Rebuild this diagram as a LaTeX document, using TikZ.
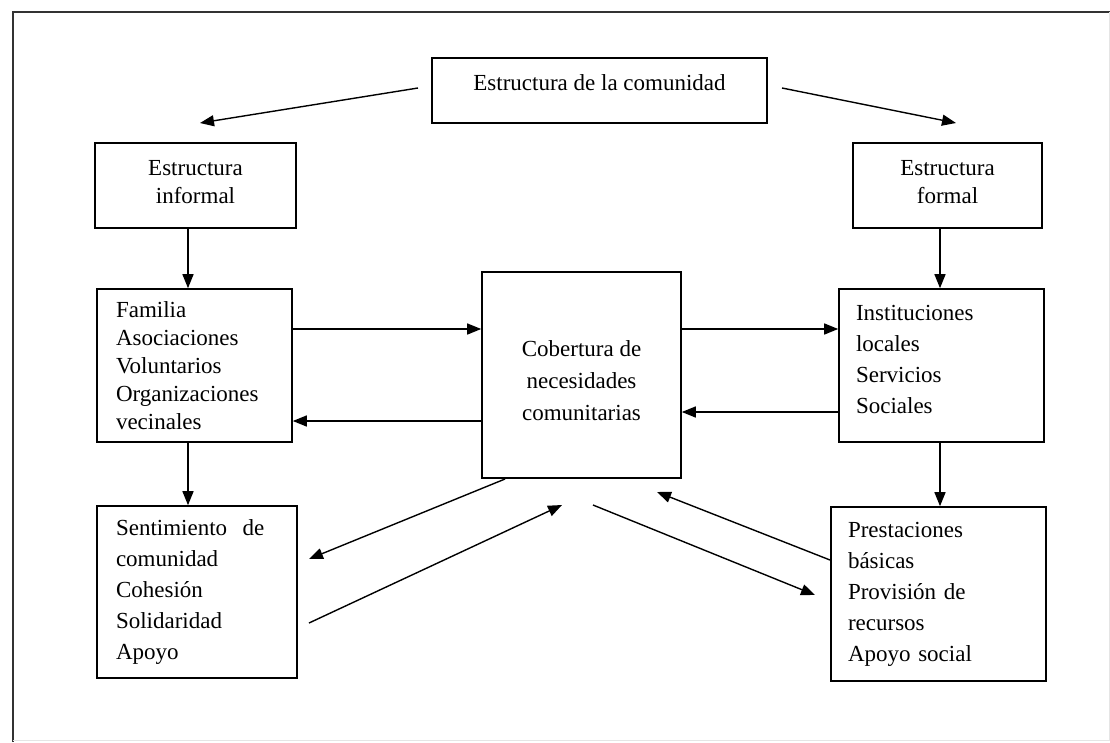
\documentclass[tikz,border=0pt]{standalone}
\usepackage{fontspec}
\setmainfont{Liberation Serif}
\usetikzlibrary{arrows.meta}

\begin{document}
\begin{tikzpicture}[x = 1pt, y = -1pt,
        font = \fontsize{23}{31}\selectfont,
        caja/.style = {draw, line width = 1.6pt, inner sep = 0pt},
        lista/.style = {caja, align = left},
        flecha/.style = {line width = 1.4pt, -{Triangle[length = 14pt, width = 11pt]}}]
        \useasboundingbox (0,0) rectangle (1110,742);
        \draw [line width = 1.5pt, black!80] (13,742) -- (13,12) -- (1110,12);
        \draw [line width = 1pt, black!10] (1109,12) -- (1109,740) -- (13,740);

        \node [caja, minimum width = 335pt, minimum height = 65pt, text depth = 15pt]
        (comunidad) at (599.5,90.5) {Estructura de la comunidad};
        \node [caja, align = center, minimum width = 201pt, minimum height = 85pt,
        font = \fontsize{23}{28}\selectfont, text depth = 8pt]
        (informal) at (195.5,185.5) {Estructura\\informal};
        \node [caja, align = center, minimum width = 189pt, minimum height = 85pt,
        font = \fontsize{23}{28}\selectfont, text depth = 8pt]
        (formal) at (947.5,185.5) {Estructura\\formal};

        \node [lista, minimum width = 195pt, minimum height = 153pt, text width = 157pt,
        font = \fontsize{23}{28}\selectfont]
        (familia) at (194.5,365.5) {Familia\\Asociaciones\\Voluntarios\\Organizaciones\\vecinales};
        \node [caja, align = center, minimum width = 199pt, minimum height = 206pt,
        font = \fontsize{23}{32}\selectfont, text height = 91pt]
        (cobertura) at (581.5,375) {Cobertura de\\necesidades\\comunitarias};
        \node [lista, minimum width = 205pt, minimum height = 153pt, text width = 171pt, text depth = 105pt]
        (instituciones) at (941.5,365.5) {Instituciones\\locales\\Servicios\\Sociales};

        \node [lista, minimum width = 200pt, minimum height = 172pt, text width = 162pt]
        (sentimiento) at (197,592) {Sentimiento\ \ de\\comunidad\\Cohesión\\Solidaridad\\Apoyo};
        \node [lista, minimum width = 215pt, minimum height = 174pt, text width = 181pt]
        (prestaciones) at (938.5,594) {Prestaciones\\básicas\\Provisión de\\recursos\\Apoyo social};

        \coordinate (c1) at (418,88);
        \coordinate (c2) at (200,123);
        \coordinate (c3) at (782,88);
        \coordinate (c4) at (956,123);
        \draw [flecha] (c1) -- (c2);
        \draw [flecha] (c3) -- (c4);

        \coordinate (i1) at ([xshift = -7.5pt]informal.south);
        \coordinate (i2) at ([xshift = -7.5pt]formal.south);
        \draw [flecha] (i1) -- (i1 |- familia.north);
        \draw [flecha] (i2) -- (i2 |- instituciones.north);

        \coordinate (f1) at ([yshift = 36.5pt]familia.east);
        \coordinate (f2) at ([yshift = -55.5pt]familia.east);
        \coordinate (s1) at ([yshift = 36.5pt]instituciones.west);
        \coordinate (s2) at ([yshift = -46.5pt]instituciones.west);
        \draw [flecha] (f1) -- (f1 -| cobertura.west);
        \draw [flecha] (f2 -| cobertura.west) -- (f2);
        \draw [flecha] (s1 -| cobertura.east) -- (s1);
        \draw [flecha] (s2) -- (s2 -| cobertura.east);

        \coordinate (f3) at ([xshift = -6.5pt]familia.south);
        \coordinate (s3) at ([xshift = -1.5pt]instituciones.south);
        \draw [flecha] (f3) -- (f3 |- sentimiento.north);
        \draw [flecha] (s3) -- (s3 |- prestaciones.north);

        \coordinate (d1) at (505,479);
        \coordinate (d2) at (309,559);
        \coordinate (d3) at (309,623);
        \coordinate (d4) at (562,505);
        \coordinate (d5) at (830,560);
        \coordinate (d6) at (657,492);
        \coordinate (d7) at (593,505);
        \coordinate (d8) at (815,595);
        \draw [flecha] (d1) -- (d2);
        \draw [flecha] (d3) -- (d4);
        \draw [flecha] (d5) -- (d6);
        \draw [flecha] (d7) -- (d8);
    \end{tikzpicture}
\end{document}
